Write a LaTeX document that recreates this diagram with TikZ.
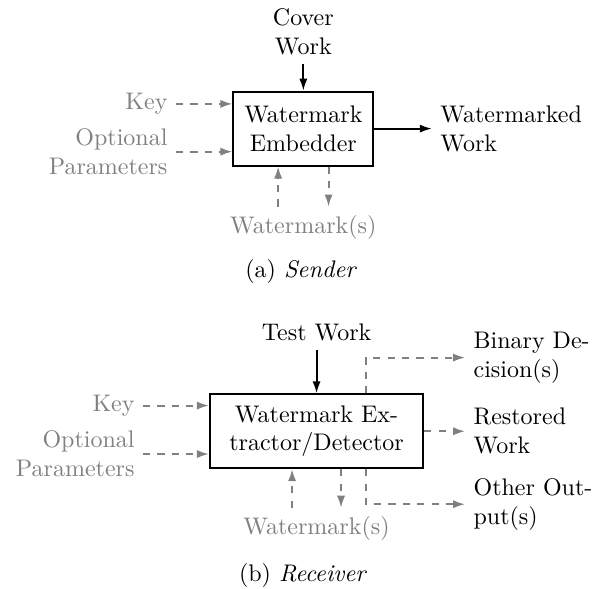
\documentclass[tikz,border=0pt]{standalone}
\usetikzlibrary{positioning,arrows.meta}

\begin{document}
\begin{tikzpicture}[x=1pt, y=1pt,
      block/.style={draw, thick, align=center, minimum height=30.8pt},
      side/.style={text=gray, align=right, anchor=east},
      outtext/.style={align=left, anchor=west},
      sig/.style={thick, -{Latex[length=5pt,width=3.4pt]}},
      optsig/.style={thick, dashed, gray, -{Latex[length=5pt,width=3.4pt]}}]
    \useasboundingbox (0,0) rectangle (247.5,245.4);

    % (a) sender
    \node[block, minimum width=58.3pt] (emb) at (126.4,191.8) {Watermark\\Embedder};
    \node[align=center] (cover) at (126.4,232.1) {Cover\\Work};
    \node[side] (keyA) at (73.3,202.1) {Key};
    \node[side] (optA) at (73.3,182.2) {Optional\\Parameters};
    \node[outtext, right=24pt of emb] (marked) {Watermarked\\Work};
    \node[text=gray] (wmA) at (126.4,150.8) {Watermark(s)};
    \node (capA) at (125.5,132.1) {(a) \textit{Sender}};
    \coordinate (wmAin) at ([xshift=-10.5pt]wmA.north);
    \coordinate (wmAout) at ([xshift=10.5pt]wmA.north);

    \draw[sig] (cover) -- (emb);
    \draw[sig] (emb) -- (marked);
    \draw[optsig] (keyA.east) -- (keyA.east -| emb.west);
    \draw[optsig] (optA.east) -- (optA.east -| emb.west);
    \draw[optsig] (wmAin) -- (wmAin |- emb.south);
    \draw[optsig] (wmAout |- emb.south) -- (wmAout);

    % (b) receiver
    \node[block, minimum width=88.9pt] (ext) at (131.9,65.7) {Watermark Ex-\\tractor/Detector};
    \node (test) at (131.9,106.7) {Test Work};
    \node[side] (keyB) at (59.6,76.4) {Key};
    \node[side] (optB) at (59.6,56.2) {Optional\\Parameters};
    \node[outtext] (binary) at (193.8,96.4) {Binary De-\\cision(s)};
    \node[outtext] (restored) at (193.8,65.7) {Restored\\Work};
    \node[outtext] (other) at (193.8,35.3) {Other Out-\\put(s)};
    \node[text=gray] (wmB) at (131.9,25.3) {Watermark(s)};
    \node (capB) at (126.3,5.8) {(b) \textit{Receiver}};
    \coordinate (tap) at (152.4,0);
    \coordinate (wmBin) at ([xshift=-10.2pt]wmB.north);
    \coordinate (wmBout) at ([xshift=10.2pt]wmB.north);

    \draw[sig] (test) -- (ext);
    \draw[optsig] (keyB.east) -- (keyB.east -| ext.west);
    \draw[optsig] (optB.east) -- (optB.east -| ext.west);
    \draw[optsig] (ext.north -| tap) |- (binary.west);
    \draw[optsig] (ext.east) -- (restored.west);
    \draw[optsig] (ext.south -| tap) |- (other.west);
    \draw[optsig] (wmBin) -- (wmBin |- ext.south);
    \draw[optsig] (wmBout |- ext.south) -- (wmBout);
\end{tikzpicture}
\end{document}
